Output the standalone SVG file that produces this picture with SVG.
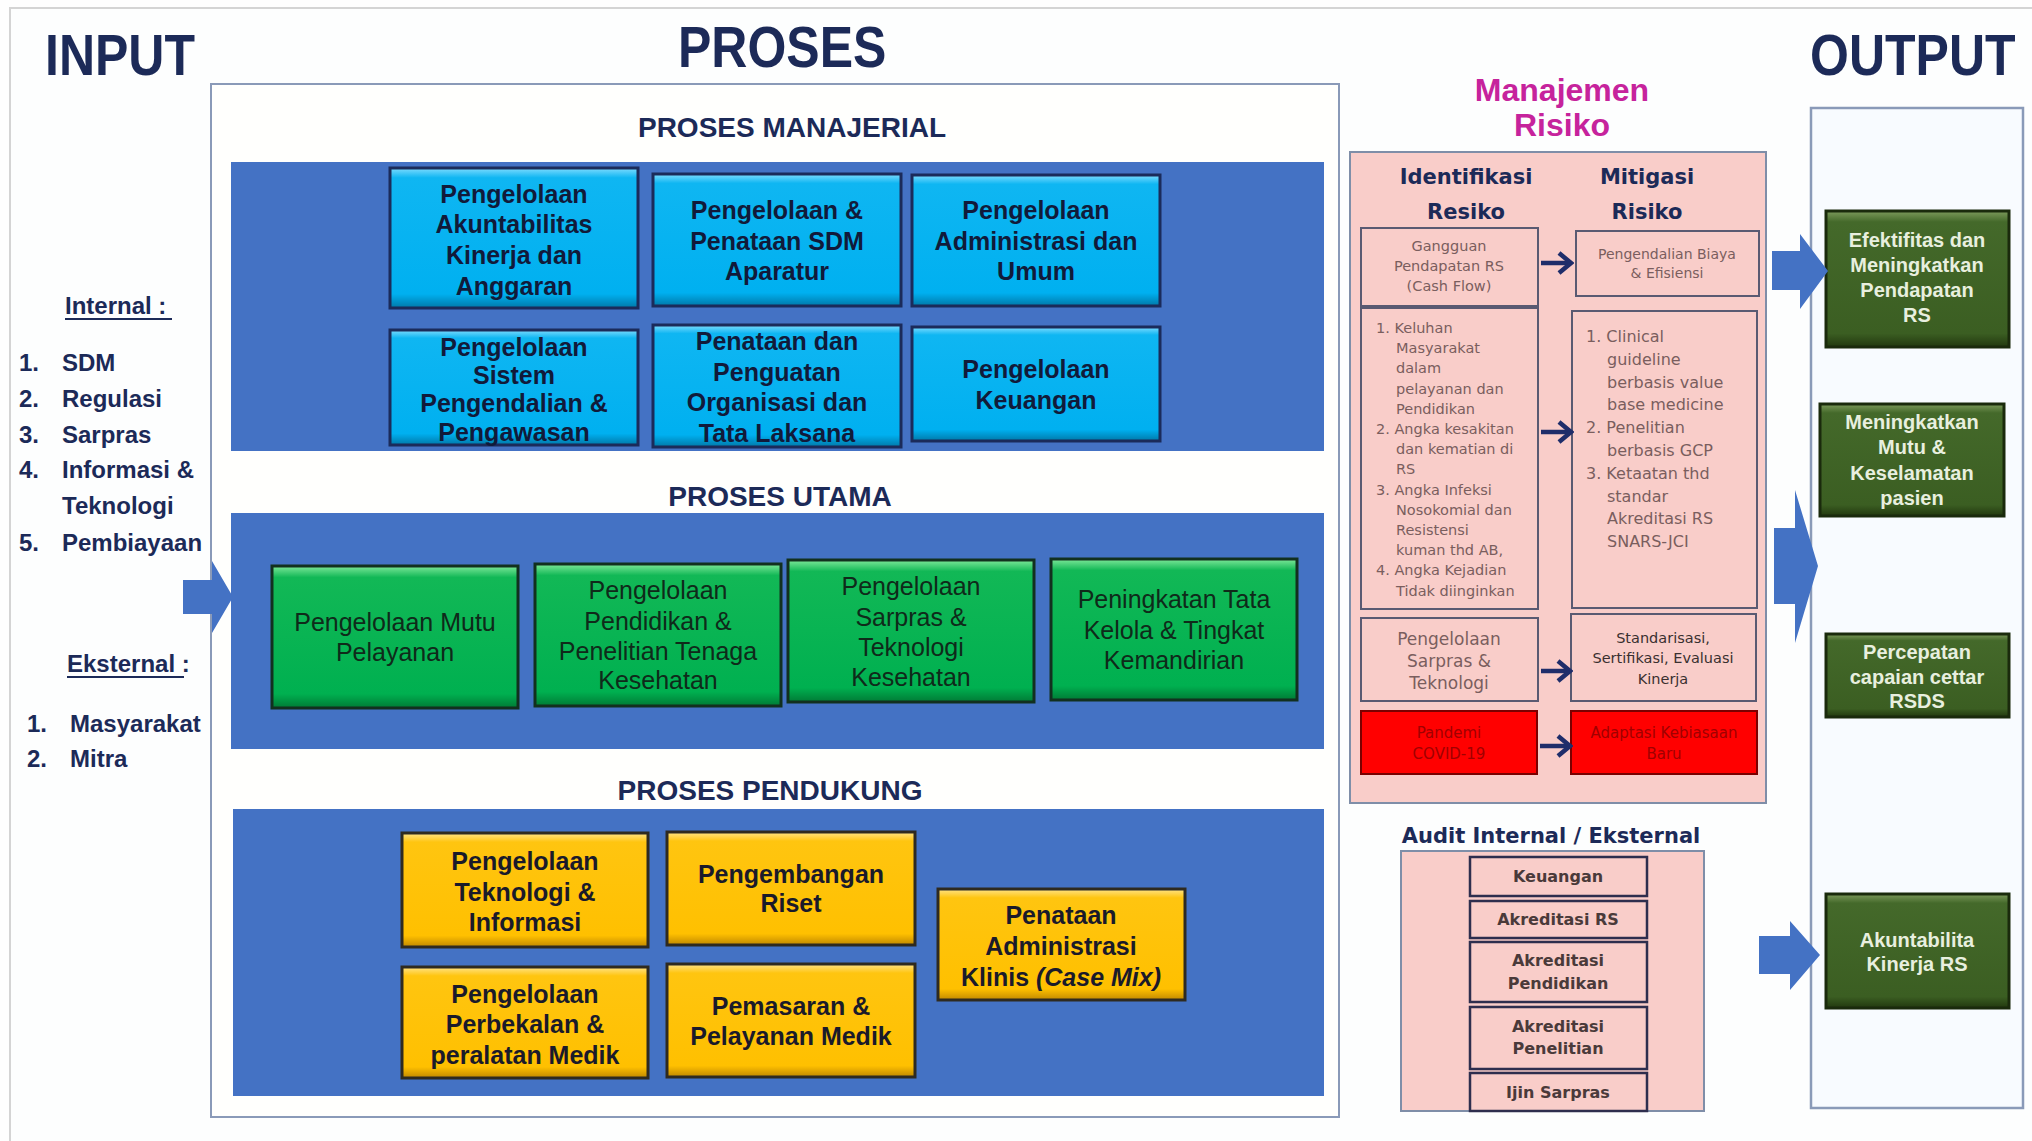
<svg xmlns="http://www.w3.org/2000/svg" width="2032" height="1141" viewBox="0 0 2032 1141">
<defs>
<linearGradient id="gCyan" x1="0" y1="0" x2="0" y2="1">
<stop offset="0" stop-color="#7fdcff"/><stop offset="0.07" stop-color="#0fb6f2"/><stop offset="0.9" stop-color="#00b0f0"/><stop offset="1" stop-color="#0078a8"/>
</linearGradient>
<linearGradient id="gGreen" x1="0" y1="0" x2="0" y2="1">
<stop offset="0" stop-color="#7fe89a"/><stop offset="0.08" stop-color="#12b856"/><stop offset="0.9" stop-color="#00b050"/><stop offset="1" stop-color="#007a35"/>
</linearGradient>
<linearGradient id="gYellow" x1="0" y1="0" x2="0" y2="1">
<stop offset="0" stop-color="#ffe48a"/><stop offset="0.08" stop-color="#ffc510"/><stop offset="0.9" stop-color="#ffc000"/><stop offset="1" stop-color="#c08800"/>
</linearGradient>
<linearGradient id="gDark" x1="0" y1="0" x2="0" y2="1">
<stop offset="0" stop-color="#7d9a5c"/><stop offset="0.08" stop-color="#44692a"/><stop offset="0.9" stop-color="#3b5e22"/><stop offset="1" stop-color="#22380f"/>
</linearGradient>
<marker id="chev" markerUnits="userSpaceOnUse" markerWidth="18" markerHeight="26" viewBox="0 0 18 26" refX="15" refY="13" orient="auto">
<path d="M3,3 L15,13 L3,23" fill="none" stroke="#1f2d6a" stroke-width="4.5"/>
</marker>
<style>
.t{font-family:"Liberation Sans",Arial,sans-serif;fill:#1c2a58;font-weight:bold}
.big{font-size:50px}
.sec{font-size:28px;text-anchor:middle}
.lst{font-size:24px}
.bx{font-family:"Liberation Sans",Arial,sans-serif;font-size:25px;text-anchor:middle;font-weight:bold;fill:#111a3a}
.gx{font-family:"Liberation Sans",Arial,sans-serif;font-size:25px;text-anchor:middle;fill:#0f2a1a}
.yx{font-family:"Liberation Sans",Arial,sans-serif;font-size:25px;text-anchor:middle;font-weight:bold;fill:#1a1a2a}
.ox{font-family:"Liberation Sans",Arial,sans-serif;font-size:20px;text-anchor:middle;font-weight:bold;fill:#e8efdf}
.rk{font-family:"DejaVu Sans",Verdana,sans-serif}
.rh{font-size:21px;font-weight:bold;fill:#1c2a58;text-anchor:middle}
.rs{fill:#7a5e5e}
.ax{font-family:"DejaVu Sans",Verdana,sans-serif;font-size:16px;font-weight:bold;fill:#4a3a3a;text-anchor:middle}
.cyan{fill:url(#gCyan);stroke:#1b2b5a;stroke-width:3}
.green{fill:url(#gGreen);stroke:#12301f;stroke-width:3}
.yel{fill:url(#gYellow);stroke:#2e2a20;stroke-width:3}
.dk{fill:url(#gDark);stroke:#1a2a0c;stroke-width:3}
.panel{fill:#4472c4}
.pk{fill:#f9cdc9;stroke:#5a5a72;stroke-width:2}
.red{fill:#ff0000;stroke:#7a0000;stroke-width:2}
.blk{fill:#4472c4}
.nav{fill:none;stroke:#1f2d6a;stroke-width:4.5;marker-end:url(#chev)}
</style>
</defs>
<rect x="0" y="0" width="2032" height="1141" fill="#fefefe"/>
<rect x="10" y="8" width="2040" height="1150" fill="#fdfefe" stroke="#d4d4d4" stroke-width="2"/>

<g id="titles">
<text class="t big" transform="translate(45,75) scale(1,1.14)" x="0" y="0">INPUT</text>
<text class="t big" transform="translate(678,67) scale(1,1.14)" x="0" y="0">PROSES</text>
<text class="t big" transform="translate(1810,75) scale(1,1.14)" x="0" y="0">OUTPUT</text>
</g>

<g id="input-list">
<text class="t lst" x="65" y="314">Internal :</text>
<line x1="65" y1="319" x2="172" y2="319" stroke="#1c2a58" stroke-width="2"/>
<text class="t lst" x="19" y="371">1.</text><text class="t lst" x="62" y="371">SDM</text>
<text class="t lst" x="19" y="407">2.</text><text class="t lst" x="62" y="407">Regulasi</text>
<text class="t lst" x="19" y="443">3.</text><text class="t lst" x="62" y="443">Sarpras</text>
<text class="t lst" x="19" y="478">4.</text><text class="t lst" x="62" y="478">Informasi &amp;</text>
<text class="t lst" x="62" y="514">Teknologi</text>
<text class="t lst" x="19" y="551">5.</text><text class="t lst" x="62" y="551">Pembiayaan</text>
<text class="t lst" x="67" y="672">Eksternal :</text>
<line x1="67" y1="677" x2="184" y2="677" stroke="#1c2a58" stroke-width="2"/>
<text class="t lst" x="27" y="732">1.</text><text class="t lst" x="70" y="732">Masyarakat</text>
<text class="t lst" x="27" y="767">2.</text><text class="t lst" x="70" y="767">Mitra</text>
</g>

<g id="proses">
<rect x="211" y="84" width="1128" height="1033" fill="#fffffd" stroke="#8a9ab8" stroke-width="2"/>
<text class="t sec" x="792" y="137">PROSES MANAJERIAL</text>
<rect class="panel" x="231" y="162" width="1093" height="289"/>
<text class="t sec" x="780" y="506">PROSES UTAMA</text>
<rect class="panel" x="231" y="513" width="1093" height="236"/>
<text class="t sec" x="770" y="800">PROSES PENDUKUNG</text>
<rect class="panel" x="233" y="809" width="1091" height="287"/>
</g>

<g id="m1"><rect class="cyan" x="390" y="168" width="248" height="140"/>
<text class="bx"><tspan x="514" y="203">Pengelolaan</tspan><tspan x="514" y="233">Akuntabilitas</tspan><tspan x="514" y="264">Kinerja dan</tspan><tspan x="514" y="295">Anggaran</tspan></text></g>
<g id="m2"><rect class="cyan" x="653" y="174" width="248" height="132"/>
<text class="bx"><tspan x="777" y="219">Pengelolaan &amp;</tspan><tspan x="777" y="250">Penataan SDM</tspan><tspan x="777" y="280">Aparatur</tspan></text></g>
<g id="m3"><rect class="cyan" x="912" y="175" width="248" height="131"/>
<text class="bx"><tspan x="1036" y="219">Pengelolaan</tspan><tspan x="1036" y="250">Administrasi dan</tspan><tspan x="1036" y="280">Umum</tspan></text></g>
<g id="m4"><rect class="cyan" x="390" y="330" width="248" height="115"/>
<text class="bx"><tspan x="514" y="356">Pengelolaan</tspan><tspan x="514" y="384">Sistem</tspan><tspan x="514" y="412">Pengendalian &amp;</tspan><tspan x="514" y="441">Pengawasan</tspan></text></g>
<g id="m5"><rect class="cyan" x="653" y="325" width="248" height="122"/>
<text class="bx"><tspan x="777" y="350">Penataan dan</tspan><tspan x="777" y="381">Penguatan</tspan><tspan x="777" y="411">Organisasi dan</tspan><tspan x="777" y="442">Tata Laksana</tspan></text></g>
<g id="m6"><rect class="cyan" x="912" y="327" width="248" height="114"/>
<text class="bx"><tspan x="1036" y="378">Pengelolaan</tspan><tspan x="1036" y="409">Keuangan</tspan></text></g>

<g id="u1"><rect class="green" x="272" y="566" width="246" height="142"/>
<text class="gx"><tspan x="395" y="631">Pengelolaan Mutu</tspan><tspan x="395" y="661">Pelayanan</tspan></text></g>
<g id="u2"><rect class="green" x="535" y="564" width="246" height="142"/>
<text class="gx"><tspan x="658" y="599">Pengelolaan</tspan><tspan x="658" y="630">Pendidikan &amp;</tspan><tspan x="658" y="660">Penelitian Tenaga</tspan><tspan x="658" y="689">Kesehatan</tspan></text></g>
<g id="u3"><rect class="green" x="788" y="560" width="246" height="142"/>
<text class="gx"><tspan x="911" y="595">Pengelolaan</tspan><tspan x="911" y="626">Sarpras &amp;</tspan><tspan x="911" y="656">Teknologi</tspan><tspan x="911" y="686">Kesehatan</tspan></text></g>
<g id="u4"><rect class="green" x="1051" y="559" width="246" height="141"/>
<text class="gx"><tspan x="1174" y="608">Peningkatan Tata</tspan><tspan x="1174" y="639">Kelola &amp; Tingkat</tspan><tspan x="1174" y="669">Kemandirian</tspan></text></g>

<g id="p1"><rect class="yel" x="402" y="833" width="246" height="114"/>
<text class="yx"><tspan x="525" y="870">Pengelolaan</tspan><tspan x="525" y="901">Teknologi &amp;</tspan><tspan x="525" y="931">Informasi</tspan></text></g>
<g id="p2"><rect class="yel" x="667" y="832" width="248" height="113"/>
<text class="yx"><tspan x="791" y="883">Pengembangan</tspan><tspan x="791" y="912">Riset</tspan></text></g>
<g id="p3"><rect class="yel" x="938" y="889" width="247" height="111"/>
<text class="yx"><tspan x="1061" y="924">Penataan</tspan><tspan x="1061" y="955">Administrasi</tspan><tspan x="1061" y="986">Klinis <tspan font-style="italic">(Case Mix)</tspan></tspan></text></g>
<g id="p4"><rect class="yel" x="402" y="967" width="246" height="111"/>
<text class="yx"><tspan x="525" y="1003">Pengelolaan</tspan><tspan x="525" y="1033">Perbekalan &amp;</tspan><tspan x="525" y="1064">peralatan Medik</tspan></text></g>
<g id="p5"><rect class="yel" x="667" y="964" width="248" height="113"/>
<text class="yx"><tspan x="791" y="1015">Pemasaran &amp;</tspan><tspan x="791" y="1045">Pelayanan Medik</tspan></text></g>

<g id="risiko">
<text class="t" x="1562" y="101" font-size="32" text-anchor="middle" style="fill:#c6239c">Manajemen</text>
<text class="t" x="1562" y="136" font-size="32" text-anchor="middle" style="fill:#c6239c">Risiko</text>
<rect x="1350" y="152" width="416" height="651" fill="#f9cdc9" stroke="#7f8ea8" stroke-width="2"/>
<text class="rk rh"><tspan x="1466" y="184">Identifikasi</tspan><tspan x="1466" y="219">Resiko</tspan></text>
<text class="rk rh"><tspan x="1647" y="184">Mitigasi</tspan><tspan x="1647" y="219">Risiko</tspan></text>
</g>
<g id="r1"><rect class="pk" x="1361" y="228" width="177" height="78"/>
<text class="rk rs" font-size="14.5" text-anchor="middle"><tspan x="1449" y="251">Gangguan</tspan><tspan x="1449" y="271">Pendapatan RS</tspan><tspan x="1449" y="291">(Cash Flow)</tspan></text></g>
<g id="r2"><rect class="pk" x="1576" y="231" width="183" height="65"/>
<text class="rk rs" font-size="14" text-anchor="middle"><tspan x="1667" y="259">Pengendalian Biaya</tspan><tspan x="1667" y="278">&amp; Efisiensi</tspan></text></g>
<g id="r3"><rect class="pk" x="1361" y="308" width="177" height="301"/>
<text class="rk rs" font-size="14.5"><tspan x="1376" y="333">1. Keluhan</tspan><tspan x="1396" y="353">Masyarakat</tspan><tspan x="1396" y="373">dalam</tspan><tspan x="1396" y="394">pelayanan dan</tspan><tspan x="1396" y="414">Pendidikan</tspan><tspan x="1376" y="434">2. Angka kesakitan</tspan><tspan x="1396" y="454">dan kematian di</tspan><tspan x="1396" y="474">RS</tspan><tspan x="1376" y="495">3. Angka Infeksi</tspan><tspan x="1396" y="515">Nosokomial dan</tspan><tspan x="1396" y="535">Resistensi</tspan><tspan x="1396" y="555">kuman thd AB,</tspan><tspan x="1376" y="575">4. Angka Kejadian</tspan><tspan x="1396" y="596">Tidak diinginkan</tspan></text></g>
<g id="r4"><rect class="pk" x="1572" y="311" width="185" height="297"/>
<text class="rk rs" font-size="16"><tspan x="1586" y="342">1. Clinical</tspan><tspan x="1607" y="365">guideline</tspan><tspan x="1607" y="388">berbasis value</tspan><tspan x="1607" y="410">base medicine</tspan><tspan x="1586" y="433">2. Penelitian</tspan><tspan x="1607" y="456">berbasis GCP</tspan><tspan x="1586" y="479">3. Ketaatan thd</tspan><tspan x="1607" y="502">standar</tspan><tspan x="1607" y="524">Akreditasi RS</tspan><tspan x="1607" y="547">SNARS-JCI</tspan></text></g>
<g id="r5"><rect class="pk" x="1361" y="618" width="177" height="83"/>
<text class="rk rs" font-size="17" text-anchor="middle"><tspan x="1449" y="645">Pengelolaan</tspan><tspan x="1449" y="667">Sarpras &amp;</tspan><tspan x="1449" y="689">Teknologi</tspan></text></g>
<g id="r6"><rect class="pk" x="1571" y="614" width="185" height="87"/>
<text class="rk" font-size="14.5" text-anchor="middle" fill="#3a3030"><tspan x="1663" y="643">Standarisasi,</tspan><tspan x="1663" y="663">Sertifikasi, Evaluasi</tspan><tspan x="1663" y="684">Kinerja</tspan></text></g>
<g id="r7"><rect class="red" x="1361" y="711" width="176" height="63"/>
<text class="rk" font-size="15" text-anchor="middle" fill="#a00000"><tspan x="1449" y="738">Pandemi</tspan><tspan x="1449" y="759">COVID-19</tspan></text></g>
<g id="r8"><rect class="red" x="1571" y="711" width="186" height="63"/>
<text class="rk" font-size="15" text-anchor="middle" fill="#a00000"><tspan x="1664" y="738">Adaptasi Kebiasaan</tspan><tspan x="1664" y="759">Baru</tspan></text></g>

<g id="audit">
<text class="rk" x="1551" y="843" font-size="21" font-weight="bold" fill="#1c2a58" text-anchor="middle">Audit Internal / Eksternal</text>
<rect x="1401" y="851" width="303" height="260" fill="#f9cdc9" stroke="#7f8ea8" stroke-width="2"/>
</g>
<g id="a1"><rect x="1470" y="857" width="177" height="39" fill="#f9cdc9" stroke="#2e2e4e" stroke-width="2.5"/><text class="ax" x="1558" y="882">Keuangan</text></g>
<g id="a2"><rect x="1470" y="901" width="177" height="37" fill="#f9cdc9" stroke="#2e2e4e" stroke-width="2.5"/><text class="ax" x="1558" y="925">Akreditasi RS</text></g>
<g id="a3"><rect x="1470" y="942" width="177" height="60" fill="#f9cdc9" stroke="#2e2e4e" stroke-width="2.5"/><text class="ax"><tspan x="1558" y="966">Akreditasi</tspan><tspan x="1558" y="989">Pendidikan</tspan></text></g>
<g id="a4"><rect x="1470" y="1007" width="177" height="62" fill="#f9cdc9" stroke="#2e2e4e" stroke-width="2.5"/><text class="ax"><tspan x="1558" y="1032">Akreditasi</tspan><tspan x="1558" y="1054">Penelitian</tspan></text></g>
<g id="a5"><rect x="1470" y="1073" width="177" height="38" fill="#f9cdc9" stroke="#2e2e4e" stroke-width="2.5"/><text class="ax" x="1558" y="1098">Ijin Sarpras</text></g>

<g id="output">
<rect x="1811" y="108" width="212" height="1000" fill="#f8fbff" stroke="#8a9ab8" stroke-width="2.5"/>
</g>
<g id="o1"><rect class="dk" x="1826" y="211" width="183" height="136"/>
<text class="ox"><tspan x="1917" y="247">Efektifitas dan</tspan><tspan x="1917" y="272">Meningkatkan</tspan><tspan x="1917" y="297">Pendapatan</tspan><tspan x="1917" y="322">RS</tspan></text></g>
<g id="o2"><rect class="dk" x="1820" y="404" width="184" height="112"/>
<text class="ox"><tspan x="1912" y="429">Meningkatkan</tspan><tspan x="1912" y="454">Mutu &amp;</tspan><tspan x="1912" y="480">Keselamatan</tspan><tspan x="1912" y="505">pasien</tspan></text></g>
<g id="o3"><rect class="dk" x="1826" y="634" width="183" height="83"/>
<text class="ox"><tspan x="1917" y="659">Percepatan</tspan><tspan x="1917" y="684">capaian cettar</tspan><tspan x="1917" y="708">RSDS</tspan></text></g>
<g id="o4"><rect class="dk" x="1826" y="894" width="183" height="114"/>
<text class="ox"><tspan x="1917" y="947">Akuntabilita</tspan><tspan x="1917" y="971">Kinerja RS</tspan></text></g>

<g id="connectors">
<polygon class="blk" points="183,580 212,580 212,561 233,597 212,633 212,614 183,614"/>
<polygon class="blk" points="1772,251 1800,251 1800,234 1828,271 1800,309 1800,290 1772,290"/>
<polygon class="blk" points="1774,528 1795,528 1795,490 1818,566 1795,643 1795,604 1774,604"/>
<polygon class="blk" points="1759,936 1790,936 1790,921 1820,955 1790,990 1790,974 1759,974"/>
<path class="nav" d="M1541,263 H1571"/>
<path class="nav" d="M1541,432 H1571"/>
<path class="nav" d="M1541,671 H1570"/>
<path class="nav" d="M1540,746 H1570"/>
</g>
</svg>
